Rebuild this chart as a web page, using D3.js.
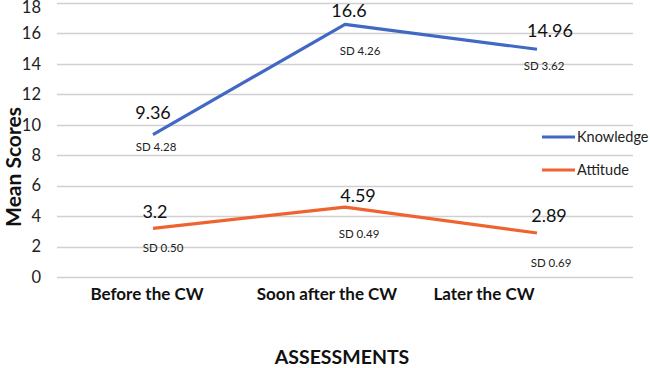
<!DOCTYPE html>
<html>
<head>
<meta charset="utf-8">
<title>Mean Scores</title>
<script src="https://d3js.org/d3.v7.min.js"></script>
<style>
body { margin: 0; background: #fff; }
text { font-family: Lato, "Open Sans", sans-serif; }
</style>
</head>
<body>
<div id="container"></div>
<script>
// data
var categories = ["Before the CW", "Soon after the CW", "Later the CW"];
var knowledge = [9.36, 16.6, 14.96];
var attitude = [3.2, 4.59, 2.89];
var knowledgeSD = ["4.28", "4.26", "3.62"];
var attitudeSD = ["0.50", "0.49", "0.69"];
var yTicks = [0, 2, 4, 6, 8, 10, 12, 14, 16, 18];

var width = 650, height = 368;
var margin = {top: 3, right: 17, bottom: 91, left: 57};

var svg = d3.select("#container").append("svg")
	.attr("width", width)
	.attr("height", height);

var x = d3.scaleBand()
	.domain(categories)
	.range([margin.left, width - margin.right]);

var y = d3.scaleLinear()
	.domain([0, 18])
	.range([height - margin.bottom, margin.top]);

//gridlines
svg.append("g")
	.selectAll("line")
	.data(yTicks)
	.join("line")
	.attr("x1", margin.left)
	.attr("x2", width - margin.right)
	.attr("y1", function(d) { return Math.round(y(d)) + 0.5; })
	.attr("y2", function(d) { return Math.round(y(d)) + 0.5; })
	.attr("stroke", "#d0d0d0")
	.attr("stroke-width", 1.3);

//y axis labels
var yAxis = svg.append("g")
	.attr("transform", "translate(" + (margin.left - 16) + ",0)")
	.call(d3.axisLeft(y).tickValues(yTicks).tickSize(0).tickPadding(0));
yAxis.select(".domain").remove();
yAxis.selectAll("text")
	.attr("font-size", 16.5)
	.attr("fill", "#222")
	.style("font-family", "Lato, sans-serif");
//keep the top label inside the picture
yAxis.selectAll("text").filter(function(d) { return d === 18; })
	.attr("dy", "0.55em");

//x axis labels (the excel labels sit a bit left of the points)
var labelShift = [-6, -18, -53];
var xAxis = svg.append("g")
	.attr("transform", "translate(0," + (height - margin.bottom + 23) + ")")
	.call(d3.axisBottom(x).tickSize(0).tickPadding(0));
xAxis.select(".domain").remove();
xAxis.selectAll("text")
	.attr("dy", 0)
	.attr("dx", function(d, i) { return labelShift[i]; })
	.attr("font-size", 17)
	.attr("font-weight", "bold")
	.attr("fill", "#111")
	.style("font-family", "Lato, sans-serif");

//axis titles
svg.append("text")
	.attr("transform", "translate(21,167) rotate(-90)")
	.attr("text-anchor", "middle")
	.attr("font-size", 21)
	.attr("font-weight", "bold")
	.attr("fill", "#111")
	.text("Mean Scores");

svg.append("text")
	.attr("x", 342)
	.attr("y", 364)
	.attr("text-anchor", "middle")
	.attr("font-size", 19.5)
	.attr("font-weight", "bold")
	.attr("fill", "#111")
	.text("ASSESSMENTS");

var series = [
	{name: "Knowledge", values: knowledge, sd: knowledgeSD, color: "#4169c4",
		valOff: [[0, -16], [4, -7], [13, -12]], sdOff: [[3, 16], [15, 31], [7, 21]]},
	{name: "Attitude", values: attitude, sd: attitudeSD, color: "#ef6330",
		valOff: [[2, -10], [13, -5], [12, -11]], sdOff: [[10, 24], [14, 31], [14, 34]]}
];

var line = d3.line()
	.x(function(d, i) { return x(categories[i]) + x.bandwidth() / 2; })
	.y(function(d) { return y(d); });

series.forEach(function(s) {
	svg.append("path")
		.datum(s.values)
		.attr("d", line)
		.attr("fill", "none")
		.attr("stroke", s.color)
		.attr("stroke-width", 3.2)
		.attr("stroke-linejoin", "round");

	svg.append("g").selectAll("text")
		.data(s.values)
		.join("text")
		.attr("x", function(d, i) { return x(categories[i]) + x.bandwidth() / 2 + s.valOff[i][0]; })
		.attr("y", function(d, i) { return y(d) + s.valOff[i][1]; })
		.attr("text-anchor", "middle")
		.attr("font-size", 18)
		.attr("fill", "#111")
		.text(function(d) { return d; });

	svg.append("g").selectAll("text")
		.data(s.sd)
		.join("text")
		.attr("x", function(d, i) { return x(categories[i]) + x.bandwidth() / 2 + s.sdOff[i][0]; })
		.attr("y", function(d, i) { return y(s.values[i]) + s.sdOff[i][1]; })
		.attr("text-anchor", "middle")
		.attr("font-size", 11.5)
		.attr("fill", "#222")
		.text(function(d) { return "SD " + d; });
});

//legend
var legend = svg.append("g")
	.selectAll("g")
	.data(series)
	.join("g")
	.attr("transform", function(d, i) { return "translate(542," + (137 + i * 33) + ")"; });
legend.append("line")
	.attr("x1", 0).attr("x2", 33)
	.attr("stroke", function(d) { return d.color; })
	.attr("stroke-width", 3.2);
legend.append("text")
	.attr("x", 35)
	.attr("dy", "0.35em")
	.attr("font-size", 14.5)
	.attr("fill", "#222")
	.text(function(d) { return d.name; });
</script>
</body>
</html>
